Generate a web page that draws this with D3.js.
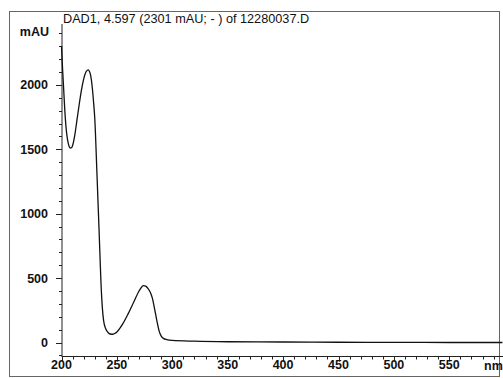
<!DOCTYPE html>
<html>
<head>
<meta charset="utf-8">
<script src="https://cdn.jsdelivr.net/npm/d3@7"></script>
<style>
  body { margin: 0; background: #fff; }
  text { font-family: "Liberation Sans", Arial, sans-serif; fill: #111; }
</style>
</head>
<body>
<div id="chart"></div>
<script>
// spectrum
var wavelength = [200, 201, 202, 203, 204, 205, 206, 207, 208, 209, 210, 212, 214, 216, 218, 220, 222, 224, 226, 228, 229, 230, 232, 234, 236, 237, 238, 240, 242, 244, 246, 248, 250, 255, 260, 265, 270, 274, 276, 278, 280, 282, 284, 286, 288, 290, 292, 295, 300, 320, 350, 400, 450, 500, 550, 598];
var absorbance = [2301, 2120, 1960, 1800, 1680, 1600, 1550, 1520, 1510, 1512, 1530, 1610, 1730, 1850, 1960, 2045, 2100, 2117, 2085, 1960, 1860, 1745, 1310, 850, 395, 255, 170, 105, 78, 66, 64, 70, 82, 140, 220, 310, 400, 442, 438, 420, 392, 345, 262, 172, 92, 50, 32, 22, 16, 10, 6, 4, 2, 1, 0, 0];

var xTicks = [200, 250, 300, 350, 400, 450, 500, 550];
var yTicks = [0, 500, 1000, 1500, 2000];
var title = "DAD1, 4.597 (2301 mAU; - ) of 12280037.D";

var width = 503, height = 378;

var svg = d3.select("#chart").append("svg")
    .attr("width", width)
    .attr("height", height);

// outer frame
svg.append("rect")
    .attr("x", 9.5).attr("y", 11.5)
    .attr("width", 490).attr("height", 365)
    .attr("fill", "none")
    .attr("stroke", "#666")
    .attr("stroke-width", 1);

var x = d3.scaleLinear().domain([200, 600]).range([61.5, 504.7]);
var y = d3.scaleLinear().domain([0, 2000]).range([342.5, 84.9]);

// y axis
var yAxisG = svg.append("g").attr("transform", "translate(62,0)");
yAxisG.append("line")
    .attr("x1", 0).attr("x2", 0)
    .attr("y1", 24).attr("y2", 356)
    .attr("stroke", "#222");
yAxisG.selectAll(".ymin")
    .data(d3.range(-100, 2401, 100))
    .enter().append("line")
    .attr("x1", function(d) { return d % 500 == 0 ? -6 : -3; })
    .attr("x2", 0)
    .attr("y1", function(d) { return Math.round(y(d)) + 0.5; })
    .attr("y2", function(d) { return Math.round(y(d)) + 0.5; })
    .attr("stroke", "#222");
yAxisG.selectAll(".ylab")
    .data(yTicks)
    .enter().append("text")
    .attr("x", -14)
    .attr("y", function(d) { return y(d) + 4.5; })
    .attr("text-anchor", "end")
    .style("font-size", "12.5px")
    .style("font-weight", "bold")
    .text(function(d) { return d; });
yAxisG.append("text")
    .attr("x", -13).attr("y", 36)
    .attr("text-anchor", "end")
    .style("font-size", "12.5px")
    .style("font-weight", "bold")
    .text("mAU");

// x axis
var xAxisG = svg.append("g").attr("transform", "translate(0,356.5)");
xAxisG.append("line")
    .attr("x1", 61.5).attr("x2", 503)
    .attr("y1", 0).attr("y2", 0)
    .attr("stroke", "#222");
xAxisG.selectAll(".xmin")
    .data(d3.range(200, 600, 10))
    .enter().append("line")
    .attr("x1", function(d) { return Math.round(x(d)) + 0.5; })
    .attr("x2", function(d) { return Math.round(x(d)) + 0.5; })
    .attr("y1", 0)
    .attr("y2", function(d) { return d % 50 == 0 ? 5 : 3; })
    .attr("stroke", "#222");
xAxisG.selectAll(".xlab")
    .data(xTicks)
    .enter().append("text")
    .attr("x", function(d) { return x(d); })
    .attr("y", 12)
    .attr("text-anchor", "middle")
    .style("font-size", "12.5px")
    .style("font-weight", "bold")
    .text(function(d) { return d; });
xAxisG.append("text")
    .attr("x", 484).attr("y", 13)
    .style("font-size", "12.5px")
    .style("font-weight", "bold")
    .text("nm");

// title
svg.append("text")
    .attr("x", 63).attr("y", 23)
    .style("font-size", "12.7px")
    .text(title);

// spectrum
var pts = wavelength.map(function(w, i) { return [w, absorbance[i]]; });
var line = d3.line()
    .x(function(d) { return x(d[0]); })
    .y(function(d) { return y(d[1]); })
    .curve(d3.curveMonotoneX);

svg.append("path")
    .datum(pts)
    .attr("d", line)
    .attr("fill", "none")
    .attr("stroke", "#111")
    .attr("stroke-width", 1.3);
</script>
</body>
</html>
